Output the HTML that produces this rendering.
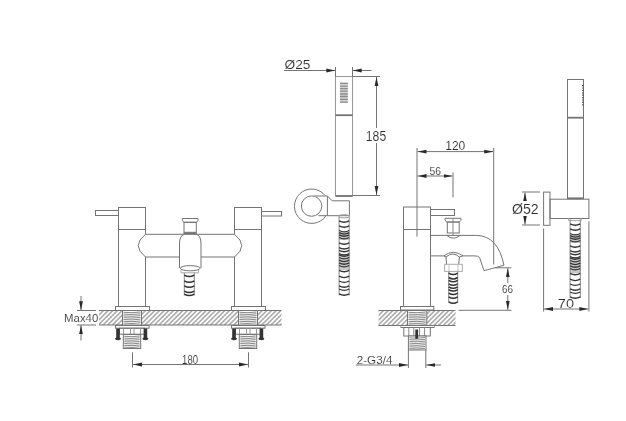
<!DOCTYPE html>
<html><head><meta charset="utf-8">
<style>
html,body{margin:0;padding:0;background:#fff;width:626px;height:421px;overflow:hidden}
svg{display:block;filter:grayscale(1)}
text{font-family:"Liberation Sans",sans-serif;fill:#2a2a2a}
</style></head><body>
<svg width="626" height="421" viewBox="0 0 626 421">
<defs>
<pattern id="hatch" patternUnits="userSpaceOnUse" width="3.3" height="3.3" patternTransform="translate(1,0) rotate(45)">
<line x1="1.65" y1="-1" x2="1.65" y2="6" stroke="#858585" stroke-width="1.1"/>
</pattern>
<marker id="arr" viewBox="0 0 9 5" refX="9" refY="2.5" markerWidth="9" markerHeight="5" orient="auto-start-reverse" markerUnits="userSpaceOnUse">
<path d="M0,0.6 L9,2.5 L0,4.4 z" fill="#2a2a2a"/>
</marker>
</defs>
<g fill="none" stroke="#747474" stroke-width="1">
<rect x="99" y="310.5" width="182.5" height="14.5" fill="url(#hatch)" stroke="none"/>
<line x1="99" y1="310.5" x2="281.5" y2="310.5"/>
<line x1="99" y1="325" x2="281.5" y2="325"/>
<rect x="95.5" y="210.5" width="23" height="5"/>
<rect x="118.5" y="207.5" width="27" height="22"/>
<line x1="118.5" y1="229.5" x2="118.5" y2="306.5"/>
<line x1="145.5" y1="229.5" x2="145.5" y2="234.5"/>
<line x1="145.5" y1="257" x2="145.5" y2="306.5"/>
<rect x="115.5" y="306.5" width="34" height="4"/>
<rect x="234.5" y="207.5" width="27" height="22"/>
<rect x="261.5" y="211.5" width="20" height="4.5"/>
<line x1="261.5" y1="229.5" x2="261.5" y2="306.5"/>
<line x1="234.5" y1="229.5" x2="234.5" y2="234.5"/>
<line x1="234.5" y1="257" x2="234.5" y2="306.5"/>
<rect x="231.5" y="306.5" width="34" height="4"/>
<path d="M145.5,234.3 Q131,245.6 145.5,257"/>
<path d="M234.5,234.3 Q249,245.6 234.5,257"/>
<line x1="145.5" y1="234.3" x2="234.5" y2="234.3"/>
<line x1="145.5" y1="257" x2="179.5" y2="257"/>
<line x1="201" y1="257" x2="234.5" y2="257"/>
<path d="M182.3,218.5 H198 V220.3 L196.5,222.3 H183.8 L182.3,220.3 Z"/>
<rect x="184" y="222.3" width="12.3" height="10"/>
<rect x="183.5" y="232.3" width="13.3" height="2" fill="#777" stroke="none"/>
<path d="M179.5,268 V244 Q179.5,235 184.5,234.3 M196,234.3 Q201,235 201,244 V268"/>
<ellipse cx="190.2" cy="268.2" rx="9.9" ry="2.6" fill="#fff"/>
<path d="M181,270 V272.8 H198.5 V270" stroke="#aaa"/>
<line x1="184.3" y1="272.8" x2="184.3" y2="295.5" stroke="#888"/>
<line x1="194.3" y1="272.8" x2="194.3" y2="295.5" stroke="#888"/>
<path d="M184.3,275.2 Q189.3,278.0 194.3,275.2" stroke="#333" stroke-width="1.5"/>
<path d="M184.3,280.8 Q189.3,283.6 194.3,280.8" stroke="#333" stroke-width="1.5"/>
<path d="M184.3,285.8 Q189.3,288.6 194.3,285.8" stroke="#333" stroke-width="1.5"/>
<path d="M184.3,291.2 Q189.3,294.0 194.3,291.2" stroke="#333" stroke-width="1.5"/>
<path d="M184.3,294.2 Q189.3,297.0 194.3,294.2" stroke="#333" stroke-width="1.5"/>
<rect x="122.5" y="310.5" width="19.0" height="14.5" fill="#fff"/>
<path d="M123.5,312.3 Q132.0,313.2 140.5,312.0" stroke="#7a7a7a" stroke-width="0.9"/>
<path d="M123.5,314.1 Q132.0,315.0 140.5,313.8" stroke="#7a7a7a" stroke-width="0.9"/>
<path d="M123.5,315.9 Q132.0,316.8 140.5,315.6" stroke="#7a7a7a" stroke-width="0.9"/>
<path d="M123.5,317.7 Q132.0,318.6 140.5,317.4" stroke="#7a7a7a" stroke-width="0.9"/>
<path d="M123.5,319.5 Q132.0,320.4 140.5,319.2" stroke="#7a7a7a" stroke-width="0.9"/>
<path d="M123.5,321.3 Q132.0,322.2 140.5,321.0" stroke="#7a7a7a" stroke-width="0.9"/>
<path d="M123.5,323.1 Q132.0,324.0 140.5,322.8" stroke="#7a7a7a" stroke-width="0.9"/>
<rect x="115.5" y="325.5" width="33.5" height="2.7"/>
<rect x="119.5" y="328.2" width="25" height="6"/>
<path d="M123.5,328.2 v6 M130.5,328.2 v6 M134,328.2 v6 M140.5,328.2 v6" stroke="#999"/>
<rect x="116.2" y="328.5" width="3.6" height="10" fill="#333" stroke="none"/>
<rect x="143.6" y="328.5" width="3.6" height="10" fill="#333" stroke="none"/>
<ellipse cx="118" cy="338.8" rx="3" ry="1.4" fill="#333" stroke="none"/>
<ellipse cx="145.4" cy="338.8" rx="3" ry="1.4" fill="#333" stroke="none"/>
<rect x="123.3" y="334.5" width="17.39999999999999" height="14.0" fill="#fff"/>
<path d="M124.3,336.3 Q132.0,337.2 139.7,336.0" stroke="#7a7a7a" stroke-width="0.9"/>
<path d="M124.3,338.1 Q132.0,339.0 139.7,337.8" stroke="#7a7a7a" stroke-width="0.9"/>
<path d="M124.3,339.9 Q132.0,340.8 139.7,339.6" stroke="#7a7a7a" stroke-width="0.9"/>
<path d="M124.3,341.7 Q132.0,342.6 139.7,341.4" stroke="#7a7a7a" stroke-width="0.9"/>
<path d="M124.3,343.5 Q132.0,344.4 139.7,343.2" stroke="#7a7a7a" stroke-width="0.9"/>
<path d="M124.3,345.3 Q132.0,346.2 139.7,345.0" stroke="#7a7a7a" stroke-width="0.9"/>
<path d="M124.3,347.1 Q132.0,348.0 139.7,346.8" stroke="#7a7a7a" stroke-width="0.9"/>
<rect x="238.5" y="310.5" width="19.0" height="14.5" fill="#fff"/>
<path d="M239.5,312.3 Q248.0,313.2 256.5,312.0" stroke="#7a7a7a" stroke-width="0.9"/>
<path d="M239.5,314.1 Q248.0,315.0 256.5,313.8" stroke="#7a7a7a" stroke-width="0.9"/>
<path d="M239.5,315.9 Q248.0,316.8 256.5,315.6" stroke="#7a7a7a" stroke-width="0.9"/>
<path d="M239.5,317.7 Q248.0,318.6 256.5,317.4" stroke="#7a7a7a" stroke-width="0.9"/>
<path d="M239.5,319.5 Q248.0,320.4 256.5,319.2" stroke="#7a7a7a" stroke-width="0.9"/>
<path d="M239.5,321.3 Q248.0,322.2 256.5,321.0" stroke="#7a7a7a" stroke-width="0.9"/>
<path d="M239.5,323.1 Q248.0,324.0 256.5,322.8" stroke="#7a7a7a" stroke-width="0.9"/>
<rect x="231.5" y="325.5" width="33.5" height="2.7"/>
<rect x="235.5" y="328.2" width="25" height="6"/>
<path d="M239.5,328.2 v6 M246.5,328.2 v6 M250,328.2 v6 M256.5,328.2 v6" stroke="#999"/>
<rect x="232.2" y="328.5" width="3.6" height="10" fill="#333" stroke="none"/>
<rect x="259.6" y="328.5" width="3.6" height="10" fill="#333" stroke="none"/>
<ellipse cx="234" cy="338.8" rx="3" ry="1.4" fill="#333" stroke="none"/>
<ellipse cx="261.4" cy="338.8" rx="3" ry="1.4" fill="#333" stroke="none"/>
<rect x="239.3" y="334.5" width="17.399999999999977" height="14.0" fill="#fff"/>
<path d="M240.3,336.3 Q248.0,337.2 255.7,336.0" stroke="#7a7a7a" stroke-width="0.9"/>
<path d="M240.3,338.1 Q248.0,339.0 255.7,337.8" stroke="#7a7a7a" stroke-width="0.9"/>
<path d="M240.3,339.9 Q248.0,340.8 255.7,339.6" stroke="#7a7a7a" stroke-width="0.9"/>
<path d="M240.3,341.7 Q248.0,342.6 255.7,341.4" stroke="#7a7a7a" stroke-width="0.9"/>
<path d="M240.3,343.5 Q248.0,344.4 255.7,343.2" stroke="#7a7a7a" stroke-width="0.9"/>
<path d="M240.3,345.3 Q248.0,346.2 255.7,345.0" stroke="#7a7a7a" stroke-width="0.9"/>
<path d="M240.3,347.1 Q248.0,348.0 255.7,346.8" stroke="#7a7a7a" stroke-width="0.9"/>
<line x1="77" y1="310.5" x2="96" y2="310.5"/>
<line x1="77" y1="325" x2="96" y2="325"/>
<line x1="81" y1="296" x2="81" y2="310.3" marker-end="url(#arr)"/>
<line x1="81" y1="340.5" x2="81" y2="325.3" marker-end="url(#arr)"/>
<line x1="132.5" y1="352.3" x2="132.5" y2="367.5"/>
<line x1="248.5" y1="352.3" x2="248.5" y2="367.5"/>
<line x1="133" y1="364.5" x2="248" y2="364.5" marker-start="url(#arr)" marker-end="url(#arr)"/>
<rect x="335.5" y="76.5" width="17" height="119.5" fill="#fff" stroke="#999"/>
<line x1="335.5" y1="196" x2="352.5" y2="196" stroke-width="1.8"/>
<line x1="335.5" y1="115.2" x2="352.5" y2="115.2" stroke-width="1.8"/>
<rect x="340" y="82.6" width="7.8" height="20.3" fill="#d4d4d4" stroke="none"/>
<path d="M340,83.3 h7.8 M340,86.2 h7.8 M340,88.7 h7.8 M340,91.2 h7.8 M340,94.0 h7.8 M340,96.5 h7.8 M340,99.4 h7.8 M340,102.2 h7.8" stroke="#8a8a8a" stroke-width="1.3"/>
<path d="M325.5,196 A17.2,17.2 0 1 0 326,215.7"/>
<circle cx="311.6" cy="206.1" r="10.2"/>
<path d="M313.8,196 H327.4 V215.7 M327.4,196 L332.2,200.8 H349.4 V215.7 H318.5" />
<line x1="313.8" y1="196" x2="327.4" y2="196" stroke="#bbb"/>
<rect x="339.1" y="232" width="10.099999999999966" height="8" fill="#c8c8c8" stroke="none"/>
<rect x="339.1" y="254" width="10.099999999999966" height="16" fill="#c8c8c8" stroke="none"/>
<line x1="339.1" y1="216.3" x2="339.1" y2="295.5" stroke="#888"/>
<line x1="349.2" y1="216.3" x2="349.2" y2="295.5" stroke="#888"/>
<path d="M339.1,220.9 Q344.15,223.7 349.2,220.9" stroke="#333" stroke-width="1.4"/>
<path d="M339.1,225.8 Q344.15,228.6 349.2,225.8" stroke="#333" stroke-width="1.4"/>
<path d="M339.1,230.5 Q344.15,233.3 349.2,230.5" stroke="#333" stroke-width="1.4"/>
<path d="M339.1,232.7 Q344.15,235.5 349.2,232.7" stroke="#333" stroke-width="1.4"/>
<path d="M339.1,234.8 Q344.15,237.6 349.2,234.8" stroke="#333" stroke-width="1.4"/>
<path d="M339.1,237.5 Q344.15,240.3 349.2,237.5" stroke="#333" stroke-width="1.4"/>
<path d="M339.1,242.8 Q344.15,245.6 349.2,242.8" stroke="#333" stroke-width="1.4"/>
<path d="M339.1,247.6 Q344.15,250.4 349.2,247.6" stroke="#333" stroke-width="1.4"/>
<path d="M339.1,250.3 Q344.15,253.1 349.2,250.3" stroke="#333" stroke-width="1.4"/>
<path d="M339.1,253.5 Q344.15,256.3 349.2,253.5" stroke="#333" stroke-width="1.4"/>
<path d="M339.1,254.8 Q344.15,257.6 349.2,254.8" stroke="#333" stroke-width="1.4"/>
<path d="M339.1,257.5 Q344.15,260.3 349.2,257.5" stroke="#333" stroke-width="1.4"/>
<path d="M339.1,260.2 Q344.15,263.0 349.2,260.2" stroke="#333" stroke-width="1.4"/>
<path d="M339.1,262.9 Q344.15,265.7 349.2,262.9" stroke="#333" stroke-width="1.4"/>
<path d="M339.1,265.5 Q344.15,268.3 349.2,265.5" stroke="#333" stroke-width="1.4"/>
<path d="M339.1,270.3 Q344.15,273.1 349.2,270.3" stroke="#333" stroke-width="1.4"/>
<path d="M339.1,276.2 Q344.15,279.0 349.2,276.2" stroke="#333" stroke-width="1.4"/>
<path d="M339.1,281.0 Q344.15,283.8 349.2,281.0" stroke="#333" stroke-width="1.4"/>
<path d="M339.1,285.8 Q344.15,288.6 349.2,285.8" stroke="#333" stroke-width="1.4"/>
<path d="M339.1,289.0 Q344.15,291.8 349.2,289.0" stroke="#333" stroke-width="1.4"/>
<path d="M339.1,293.8 Q344.15,296.6 349.2,293.8" stroke="#333" stroke-width="1.4"/>
<ellipse cx="344.1" cy="216.3" rx="5.3" ry="1.6" stroke="#999"/>
<line x1="335.5" y1="67" x2="335.5" y2="76.5"/>
<line x1="352.5" y1="67" x2="352.5" y2="76.5"/>
<line x1="284" y1="70.5" x2="335.3" y2="70.5" marker-end="url(#arr)"/>
<line x1="371.5" y1="70.5" x2="352.7" y2="70.5" marker-end="url(#arr)"/>
<line x1="352.5" y1="76.5" x2="380" y2="76.5"/>
<line x1="352.5" y1="195.5" x2="380" y2="195.5"/>
<line x1="376.5" y1="77" x2="376.5" y2="195" marker-start="url(#arr)" marker-end="url(#arr)"/>
<rect x="378.6" y="310.5" width="77" height="15" fill="url(#hatch)" stroke="none"/>
<line x1="378.6" y1="310.5" x2="455.5" y2="310.5"/>
<line x1="378.6" y1="325.5" x2="455.5" y2="325.5"/>
<line x1="458.5" y1="310.3" x2="511.5" y2="310.3"/>
<rect x="403.5" y="207" width="27" height="99.5" fill="#fff"/>
<line x1="403.5" y1="229.5" x2="430.5" y2="229.5"/>
<rect x="400.5" y="306.5" width="33.3" height="3.5"/>
<rect x="430.5" y="209.5" width="24" height="6"/>
<path d="M445,218.3 H461 V220.3 L459.3,222 H446.8 L445,220.3 Z"/>
<rect x="447.3" y="222" width="11.9" height="11"/>
<line x1="453" y1="218" x2="453" y2="236" stroke="#888"/>
<path d="M430.5,235.4 H476.8 Q498,236 504,265.3 L484,270.7 L479.6,257.5 Q478,255.9 475,255.9 H463"/>
<line x1="443.7" y1="255.9" x2="430.5" y2="255.9"/>
<path d="M446.6,235.4 Q453.4,241 460.2,235.4"/>
<path d="M443.7,255.9 Q453.3,248.7 463,255.9 L459.4,257 L458.7,264.3 M443.7,255.9 L446,257 L446.6,264.3 M446,257 Q453,251 459.4,257"/>
<rect x="444.6" y="264.3" width="17.7" height="7.1" stroke="#aaa"/>
<path d="M449,264.3 v7.1 M458,264.3 v7.1" stroke="#c4c4c4"/>
<line x1="448.7" y1="271.6" x2="448.7" y2="302.5" stroke="#888"/>
<line x1="457.7" y1="271.6" x2="457.7" y2="302.5" stroke="#888"/>
<path d="M448.7,273.2 Q453.2,276.0 457.7,273.2" stroke="#333" stroke-width="1.5"/>
<path d="M448.7,277.5 Q453.2,280.3 457.7,277.5" stroke="#333" stroke-width="1.5"/>
<path d="M448.7,280.4 Q453.2,283.2 457.7,280.4" stroke="#333" stroke-width="1.5"/>
<path d="M448.7,283.9 Q453.2,286.7 457.7,283.9" stroke="#333" stroke-width="1.5"/>
<path d="M448.7,286.8 Q453.2,289.6 457.7,286.8" stroke="#333" stroke-width="1.5"/>
<path d="M448.7,289.7 Q453.2,292.5 457.7,289.7" stroke="#333" stroke-width="1.5"/>
<path d="M448.7,293.2 Q453.2,296.0 457.7,293.2" stroke="#333" stroke-width="1.5"/>
<path d="M448.7,296.8 Q453.2,299.6 457.7,296.8" stroke="#333" stroke-width="1.5"/>
<path d="M448.7,301.8 Q453.2,304.6 457.7,301.8" stroke="#333" stroke-width="1.5"/>
<rect x="407.5" y="310.5" width="19.30000000000001" height="15.0" fill="#fff"/>
<path d="M408.5,312.3 Q417.15,313.2 425.8,312.0" stroke="#7a7a7a" stroke-width="0.9"/>
<path d="M408.5,314.1 Q417.15,315.0 425.8,313.8" stroke="#7a7a7a" stroke-width="0.9"/>
<path d="M408.5,315.9 Q417.15,316.8 425.8,315.6" stroke="#7a7a7a" stroke-width="0.9"/>
<path d="M408.5,317.7 Q417.15,318.6 425.8,317.4" stroke="#7a7a7a" stroke-width="0.9"/>
<path d="M408.5,319.5 Q417.15,320.4 425.8,319.2" stroke="#7a7a7a" stroke-width="0.9"/>
<path d="M408.5,321.3 Q417.15,322.2 425.8,321.0" stroke="#7a7a7a" stroke-width="0.9"/>
<path d="M408.5,323.1 Q417.15,324.0 425.8,322.8" stroke="#7a7a7a" stroke-width="0.9"/>
<path d="M408.5,324.9 Q417.15,325.8 425.8,324.6" stroke="#7a7a7a" stroke-width="0.9"/>
<rect x="401" y="325.5" width="33" height="2"/>
<rect x="403.8" y="327.5" width="26.5" height="8.5"/>
<path d="M408.8,327.5 v8.5 M413.8,327.5 v8.5 M419.6,327.5 v8.5 M424.6,327.5 v8.5" stroke="#888"/>
<rect x="408.4" y="336" width="17.600000000000023" height="14" fill="#fff"/>
<path d="M409.4,337.8 Q417.2,338.7 425,337.5" stroke="#7a7a7a" stroke-width="0.9"/>
<path d="M409.4,339.6 Q417.2,340.5 425,339.3" stroke="#7a7a7a" stroke-width="0.9"/>
<path d="M409.4,341.4 Q417.2,342.3 425,341.1" stroke="#7a7a7a" stroke-width="0.9"/>
<path d="M409.4,343.2 Q417.2,344.1 425,342.9" stroke="#7a7a7a" stroke-width="0.9"/>
<path d="M409.4,345.0 Q417.2,345.9 425,344.7" stroke="#7a7a7a" stroke-width="0.9"/>
<path d="M409.4,346.8 Q417.2,347.7 425,346.5" stroke="#7a7a7a" stroke-width="0.9"/>
<path d="M409.4,348.6 Q417.2,349.5 425,348.3" stroke="#7a7a7a" stroke-width="0.9"/>
<rect x="415.3" y="329.5" width="2.8" height="9.3" fill="#333" stroke="none"/>
<line x1="408.4" y1="350" x2="408.4" y2="368"/>
<line x1="425.8" y1="350" x2="425.8" y2="368"/>
<line x1="355.8" y1="365" x2="408" y2="365" marker-end="url(#arr)"/>
<line x1="441" y1="365" x2="426.2" y2="365" marker-end="url(#arr)"/>
<line x1="417" y1="148" x2="417" y2="236.6"/>
<line x1="493.7" y1="148" x2="493.7" y2="264.5"/>
<line x1="417.5" y1="151.6" x2="493.2" y2="151.6" marker-start="url(#arr)" marker-end="url(#arr)"/>
<line x1="453" y1="172.4" x2="453" y2="197.4"/>
<line x1="417.5" y1="176" x2="452.5" y2="176" marker-start="url(#arr)" marker-end="url(#arr)"/>
<line x1="495.4" y1="267.8" x2="511.3" y2="267.8"/>
<line x1="507.8" y1="268.3" x2="507.8" y2="309.8" marker-start="url(#arr)" marker-end="url(#arr)"/>
<rect x="567.5" y="79.5" width="16" height="119" fill="#fff"/>
<line x1="567.5" y1="117.7" x2="583.5" y2="117.7" stroke-width="1.8"/>
<line x1="567.5" y1="198.3" x2="583.5" y2="198.3" stroke-width="1.8"/>
<path d="M582.8,85 v21" stroke="#555" stroke-width="1.5" stroke-dasharray="1.2,1.2"/>
<rect x="543.6" y="192.1" width="6.4" height="33.2"/>
<rect x="550" y="199.2" width="38.9" height="19.3"/>
<path d="M568.5,218.5 V220.6 H581.3 V218.5" stroke="#aaa"/>
<rect x="570.1" y="235" width="10.199999999999932" height="8" fill="#c8c8c8" stroke="none"/>
<rect x="570.1" y="257" width="10.199999999999932" height="16" fill="#c8c8c8" stroke="none"/>
<line x1="570.1" y1="219.3" x2="570.1" y2="298" stroke="#888"/>
<line x1="580.3" y1="219.3" x2="580.3" y2="298" stroke="#888"/>
<path d="M570.1,223.9 Q575.2,226.7 580.3,223.9" stroke="#333" stroke-width="1.4"/>
<path d="M570.1,228.8 Q575.2,231.6 580.3,228.8" stroke="#333" stroke-width="1.4"/>
<path d="M570.1,233.5 Q575.2,236.3 580.3,233.5" stroke="#333" stroke-width="1.4"/>
<path d="M570.1,235.7 Q575.2,238.5 580.3,235.7" stroke="#333" stroke-width="1.4"/>
<path d="M570.1,237.8 Q575.2,240.6 580.3,237.8" stroke="#333" stroke-width="1.4"/>
<path d="M570.1,240.5 Q575.2,243.3 580.3,240.5" stroke="#333" stroke-width="1.4"/>
<path d="M570.1,245.8 Q575.2,248.6 580.3,245.8" stroke="#333" stroke-width="1.4"/>
<path d="M570.1,250.6 Q575.2,253.4 580.3,250.6" stroke="#333" stroke-width="1.4"/>
<path d="M570.1,253.3 Q575.2,256.1 580.3,253.3" stroke="#333" stroke-width="1.4"/>
<path d="M570.1,256.5 Q575.2,259.3 580.3,256.5" stroke="#333" stroke-width="1.4"/>
<path d="M570.1,257.8 Q575.2,260.6 580.3,257.8" stroke="#333" stroke-width="1.4"/>
<path d="M570.1,260.5 Q575.2,263.3 580.3,260.5" stroke="#333" stroke-width="1.4"/>
<path d="M570.1,263.2 Q575.2,266.0 580.3,263.2" stroke="#333" stroke-width="1.4"/>
<path d="M570.1,265.9 Q575.2,268.7 580.3,265.9" stroke="#333" stroke-width="1.4"/>
<path d="M570.1,268.5 Q575.2,271.3 580.3,268.5" stroke="#333" stroke-width="1.4"/>
<path d="M570.1,273.3 Q575.2,276.1 580.3,273.3" stroke="#333" stroke-width="1.4"/>
<path d="M570.1,279.2 Q575.2,282.0 580.3,279.2" stroke="#333" stroke-width="1.4"/>
<path d="M570.1,284.0 Q575.2,286.8 580.3,284.0" stroke="#333" stroke-width="1.4"/>
<path d="M570.1,288.8 Q575.2,291.6 580.3,288.8" stroke="#333" stroke-width="1.4"/>
<path d="M570.1,292.0 Q575.2,294.8 580.3,292.0" stroke="#333" stroke-width="1.4"/>
<path d="M570.1,296.8 Q575.2,299.6 580.3,296.8" stroke="#333" stroke-width="1.4"/>
<line x1="522" y1="192" x2="540" y2="192"/>
<line x1="522" y1="225" x2="540" y2="225"/>
<line x1="525" y1="192.5" x2="525" y2="224.5" marker-start="url(#arr)" marker-end="url(#arr)"/>
<line x1="543.6" y1="228.5" x2="543.6" y2="311.5"/>
<line x1="588.9" y1="221.3" x2="588.9" y2="311.5"/>
<line x1="544.1" y1="309" x2="588.4" y2="309" marker-start="url(#arr)" marker-end="url(#arr)"/>
</g>
<g fill="#fff" stroke="none">
<rect x="364" y="128" width="24" height="15"/>
<rect x="511" y="201" width="29" height="15"/>
<rect x="500" y="283" width="15" height="12"/>
</g>
<g style="opacity:0.99">
<text x="64.1" y="321.9" font-size="10.5" textLength="34.2" lengthAdjust="spacingAndGlyphs" stroke="#fff" stroke-width="0.12">Max40</text>
<text x="182.1" y="363.8" font-size="12" textLength="16.0" lengthAdjust="spacingAndGlyphs" stroke="#fff" stroke-width="0.12">180</text>
<text x="284.6" y="68.7" font-size="13.5" textLength="25.9" lengthAdjust="spacingAndGlyphs" stroke="#fff" stroke-width="0.12">Ø25</text>
<text x="365.8" y="141.2" font-size="13.8" textLength="20.4" lengthAdjust="spacingAndGlyphs" stroke="#fff" stroke-width="0.12">185</text>
<text x="445.2" y="150.1" font-size="13.5" textLength="20.1" lengthAdjust="spacingAndGlyphs" stroke="#fff" stroke-width="0.12">120</text>
<text x="429.4" y="174.9" font-size="11" textLength="11.5" lengthAdjust="spacingAndGlyphs" stroke="#fff" stroke-width="0.12">56</text>
<text x="502" y="293.3" font-size="11" textLength="11.0" lengthAdjust="spacingAndGlyphs" stroke="#fff" stroke-width="0.12">66</text>
<text x="356.7" y="363.7" font-size="10.7" textLength="35.7" lengthAdjust="spacingAndGlyphs" stroke="#fff" stroke-width="0.12">2-G3/4</text>
<text x="512" y="213.9" font-size="13.8" textLength="26.7" lengthAdjust="spacingAndGlyphs" stroke="#fff" stroke-width="0.12">Ø52</text>
<text x="557.8" y="307.7" font-size="13.6" textLength="16.2" lengthAdjust="spacingAndGlyphs" stroke="#fff" stroke-width="0.12">70</text>
</g>
</svg>
</body></html>
